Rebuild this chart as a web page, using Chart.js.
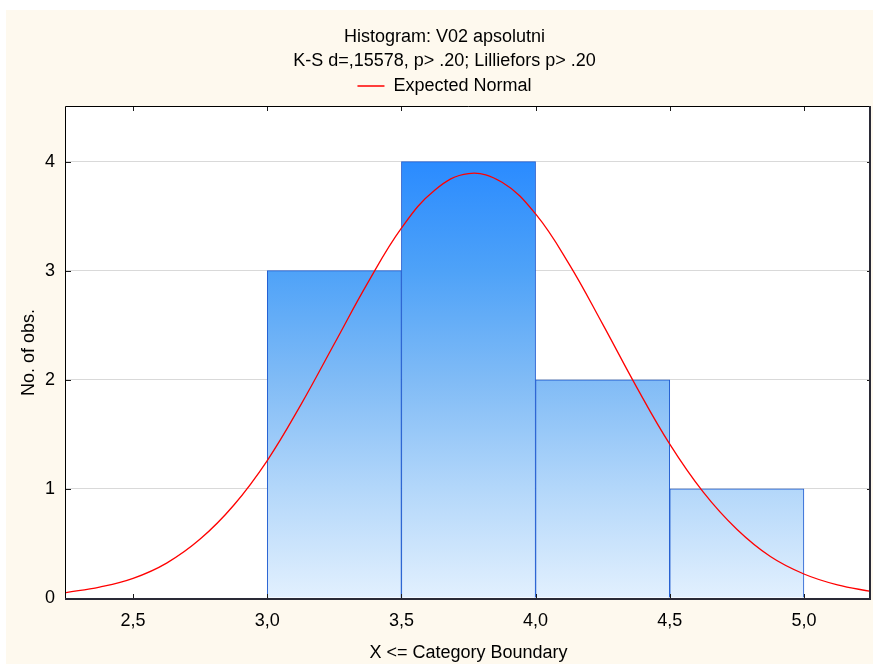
<!DOCTYPE html>
<html>
<head>
<meta charset="utf-8">
<title>Histogram: V02 apsolutni</title>
<script src="https://cdn.jsdelivr.net/npm/chart.js@4"></script>
<style>
  body { margin: 0; background: #ffffff; }
  canvas { display: block; }
</style>
</head>
<body>
<canvas id="myChart" width="873" height="664"></canvas>
<script>

//------------------------------------------------------------------
// data

const bin_centers = [3.25, 3.75, 4.25, 4.75];   // bins 3,0-3,5 ... 4,5-5,0
const bin_counts  = [3, 4, 2, 1];

// expected normal curve, read at steps of 0,125
const curve_x = [2.25, 2.375, 2.5, 2.625, 2.75, 2.875, 3.0, 3.125, 3.25, 3.375, 3.5, 3.625, 3.75,
                 3.875, 4.0, 4.125, 4.25, 4.375, 4.5, 4.625, 4.75, 4.875, 5.0, 5.125, 5.25];
const curve_y = [0.05, 0.10, 0.18, 0.32, 0.54, 0.85, 1.26, 1.77, 2.33, 2.89, 3.39, 3.74, 3.89,
                 3.81, 3.52, 3.06, 2.51, 1.94, 1.41, 0.97, 0.63, 0.38, 0.22, 0.12, 0.06];

const x_ticks = [2.5, 3.0, 3.5, 4.0, 4.5, 5.0];
const y_ticks = [0, 1, 2, 3, 4];

//------------------------------------------------------------------

const font_name = "'Liberation Sans', Arial, sans-serif";
const cream = '#fef9ee';

// background, white plot area
const back_plugin = {
    id: 'back',
    beforeDraw(chart){
        const c = chart.ctx;
        const a = chart.chartArea;
        c.save();
        c.fillStyle = '#ffffff';
        c.fillRect(0, 0, chart.width, chart.height);
        c.fillStyle = cream;
        c.fillRect(6, 10, chart.width - 6, chart.height - 10);
        c.fillStyle = '#ffffff';
        c.fillRect(a.left, a.top, a.right - a.left, a.bottom - a.top);
        c.restore();
    }
};

// frame with tick marks pointing into the plot
const frame_plugin = {
    id: 'frame',
    afterDatasetsDraw(chart){
        const c = chart.ctx;
        const a = chart.chartArea;
        const xs = chart.scales.x;
        const ys = chart.scales.y;
        c.save();
        c.lineWidth = 1;
        c.strokeStyle = '#1a1a1a';
        c.beginPath();
        for (const v of x_ticks) {
            const px = Math.round(xs.getPixelForValue(v)) + 0.5;
            c.moveTo(px, a.bottom); c.lineTo(px, a.bottom - 4);
            c.moveTo(px, a.top);    c.lineTo(px, a.top + 4);
        }
        for (const v of y_ticks) {
            const py = Math.round(ys.getPixelForValue(v)) + 0.5;
            c.moveTo(a.left, py);  c.lineTo(a.left + 5, py);
            c.moveTo(a.right, py); c.lineTo(a.right - 4, py);
        }
        c.stroke();

        c.strokeStyle = '#000000';
        c.beginPath();
        c.moveTo(a.left - 0.5, a.bottom);
        c.lineTo(a.left - 0.5, a.top - 0.5);
        c.lineTo(a.right, a.top - 0.5);
        c.stroke();

        c.lineWidth = 2;
        c.strokeStyle = '#2a2a36';
        c.beginPath();
        c.moveTo(a.right - 1, a.top - 1);
        c.lineTo(a.right - 1, a.bottom + 1);
        c.moveTo(a.left - 1, a.bottom + 1);
        c.lineTo(a.right, a.bottom + 1);
        c.stroke();
        c.restore();
    }
};

function bar_fill(context){
    const chart = context.chart;
    if (!chart.chartArea) return '#80bbf6';
    const ys = chart.scales.y;
    const g = chart.ctx.createLinearGradient(0, ys.getPixelForValue(4), 0, ys.getPixelForValue(0));
    g.addColorStop(0,    '#2a8bff');
    g.addColorStop(0.25, '#4ea2f8');
    g.addColorStop(0.5,  '#80bbf6');
    g.addColorStop(0.75, '#b3d7fa');
    g.addColorStop(1,    '#e2f0fe');
    return g;
}

function comma(v){
    return Number(v).toFixed(1).replace('.', ',');
}

const ctx = document.getElementById('myChart');

const hist_chart = new Chart(ctx, {
    data: {
        datasets: [
            {
                type: 'line',
                label: 'Expected Normal',
                data: curve_x.map((x, i) => ({x: x, y: curve_y[i]})),
                borderColor: '#ff0000',
                backgroundColor: '#ff0000',
                borderWidth: 1.3,
                pointRadius: 0,
                tension: 0.4
            },
            {
                type: 'bar',
                label: 'V02 apsolutni',
                data: bin_centers.map((x, i) => ({x: x, y: bin_counts[i]})),
                backgroundColor: bar_fill,
                borderColor: '#1f5bd0',
                borderWidth: 1,
                barPercentage: 1,
                categoryPercentage: 1
            }
        ]
    },
    options: {
        responsive: false,
        animation: false,
        devicePixelRatio: 1,
        layout: { padding: { left: 18, right: 2, top: 0, bottom: 0 } },
        plugins: {
            title: {
                display: true,
                text: ['Histogram: V02 apsolutni', 'K-S d=,15578, p> .20; Lilliefors p> .20'],
                color: '#000000',
                font: { family: font_name, size: 18, weight: 'normal', lineHeight: '24px' },
                padding: { top: 25, bottom: 0 }
            },
            legend: {
                display: true,
                labels: {
                    filter: (item) => item.datasetIndex === 0,
                    color: '#000000',
                    font: { family: font_name, size: 18 },
                    boxWidth: 27,
                    boxHeight: 0,
                    padding: 4
                }
            },
            // thin spacer between legend and plot
            subtitle: {
                display: true,
                text: '',
                weight: 500,
                font: { size: 1, lineHeight: 0 },
                padding: { top: 2, bottom: 0 }
            },
            tooltip: { enabled: false }
        },
        scales: {
            x: {
                type: 'linear',
                offset: false,
                min: 2.25,
                max: 5.25,
                afterBuildTicks: (s) => { s.ticks = x_ticks.map(v => ({value: v})); },
                afterFit: (s) => { s.height = 66; },
                ticks: {
                    callback: (v) => comma(v),
                    color: '#000000',
                    font: { family: font_name, size: 18 },
                    padding: 4,
                    maxRotation: 0
                },
                grid: { display: false },
                border: { display: false },
                title: {
                    display: true,
                    text: 'X <= Category Boundary',
                    color: '#000000',
                    font: { family: font_name, size: 18 },
                    padding: { top: 0, bottom: 0 }
                }
            },
            y: {
                min: 0,
                max: 4.5,
                afterBuildTicks: (s) => { s.ticks = y_ticks.map(v => ({value: v})); },
                afterFit: (s) => { s.width = 48; },
                ticks: {
                    color: '#000000',
                    font: { family: font_name, size: 18 },
                    padding: 11
                },
                grid: {
                    drawTicks: false,
                    color: (c) => c.tick && c.tick.value === 0 ? 'rgba(0,0,0,0)' : '#d9d9d9',
                    lineWidth: 1
                },
                border: { display: false },
                title: {
                    display: true,
                    text: 'No. of obs.',
                    color: '#000000',
                    font: { family: font_name, size: 18 },
                    padding: { top: 0.7, bottom: 0 }
                }
            }
        }
    },
    plugins: [back_plugin, frame_plugin]
});

</script>
</body>
</html>
